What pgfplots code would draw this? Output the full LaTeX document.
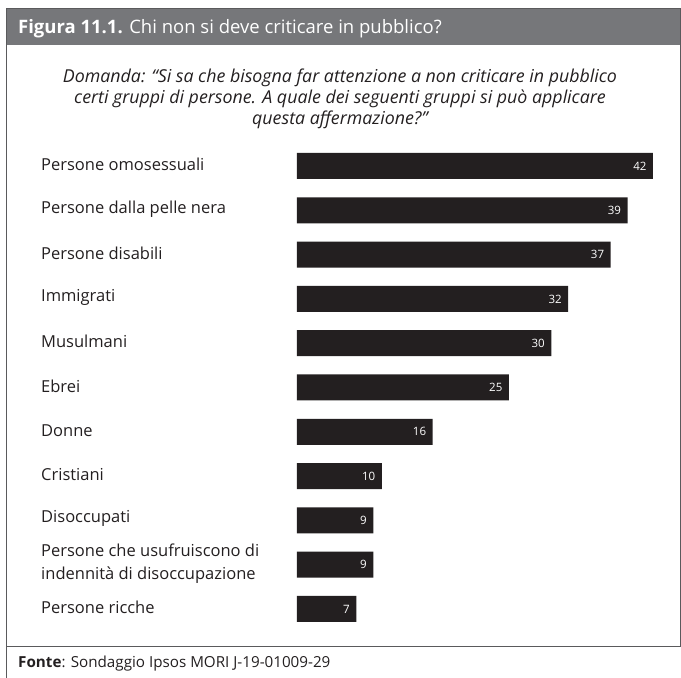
\documentclass[border=0pt]{standalone}
\usepackage{fontspec}
\setmainfont{Open Sans}
\usepackage{pgfplots}
\pgfplotsset{compat=1.18}
\definecolor{barcol}{HTML}{231F20}
\definecolor{headgray}{RGB}{118,119,122}
\definecolor{framegray}{RGB}{90,90,92}
\begin{document}
\begin{tikzpicture}[x=1pt,y=1pt]
\useasboundingbox (0,0) rectangle (681,678);
% header
\fill[headgray] (6,669) rectangle (681,633);
\draw[framegray, line width=1pt] (6,0) -- (6,669) -- (680.5,669) -- (680.5,31);
\draw[framegray, line width=1pt] (6,31) -- (681,31);
\node[anchor=base west, inner sep=0pt, text=white, font=\fontsize{18.5}{22}\selectfont] at (18,678-34) {\textbf{Figura 11.1.} Chi non si deve criticare in pubblico?};
% question
\node[anchor=base, inner sep=0pt, align=center, text=barcol, font=\fontsize{17.8}{21}\selectfont\itshape] at (340,678-125) {Domanda: “Si sa che bisogna far attenzione a non criticare in pubblico\\certi gruppi di persone. A quale dei seguenti gruppi si può applicare\\questa affermazione?”};
% footer
\node[anchor=base west, inner sep=0pt, text=barcol, font=\fontsize{15.2}{18}\selectfont] at (18,678-668) {\textbf{Fonte}: Sondaggio Ipsos MORI J-19-01009-29};
\coordinate (AX) at (297,46.85);
\begin{axis}[
  at={(AX)}, anchor=south west,
  scale only axis, width=356pt, height=487.3pt,
  xbar, bar width=26pt,
  xmin=0, xmax=42, ymin=-0.5, ymax=10.5,
  axis line style={draw=none},
  xtick=\empty,
  ytick={0,...,10},
  ytick style={draw=none},
  major tick length=0pt,
  yticklabels={Persone ricche,{Persone che usufruiscono di\\indennità di disoccupazione},Disoccupati,Cristiani,Donne,Ebrei,Musulmani,Immigrati,Persone disabili,Persone dalla pelle nera,Persone omosessuali},
  yticklabel style={anchor=west, xshift=-256pt, yshift=1.5pt, align=left, inner sep=0pt, text=barcol, font=\fontsize{16.5}{23}\selectfont},
  /pgf/number format/assume math mode=true,
  nodes near coords,
  nodes near coords style={anchor=east, text=white, xshift=-3pt, font=\fontsize{11.5}{13}\selectfont},
  clip=false,
]
\addplot[fill=barcol, draw=none] coordinates {
(7,0) (9,1) (9,2) (10,3) (16,4) (25,5) (30,6) (32,7) (37,8) (39,9) (42,10)
};
\end{axis}
\end{tikzpicture}
\end{document}
